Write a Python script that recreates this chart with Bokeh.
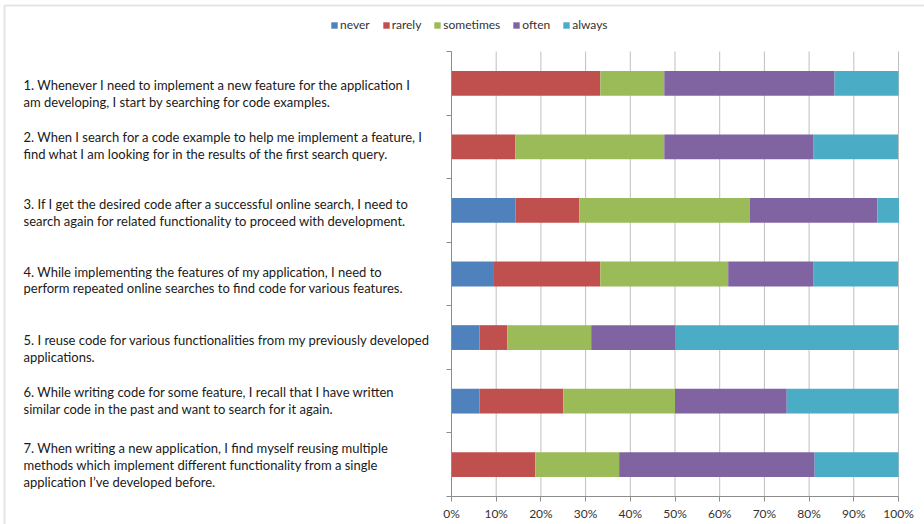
from bokeh.plotting import figure
from bokeh.models import (ColumnDataSource, Range1d, FixedTicker, NumeralTickFormatter,
                          Label, BoxAnnotation)
from bokeh.embed import file_html
from bokeh.resources import INLINE

questions = [
    "1. Whenever I need to implement a new feature for the application I\nam developing, I start by searching for code examples.",
    "2. When I search for a code example to help me implement a feature, I\nfind what I am looking for in the results of the first search query.",
    "3. If I get the desired code after a successful online search, I need to\nsearch again for related functionality to proceed with development.",
    "4. While implementing the features of my application, I need to\nperform repeated online searches to find code for various features.",
    "5. I reuse code for various functionalities from my previously developed\napplications.",
    "6. While writing code for some feature, I recall that I have written\nsimilar code in the past and want to search for it again.",
    "7. When writing a new application, I find myself reusing multiple\nmethods which implement different functionality from a single\napplication I\u2019ve developed before.",
]
levels = ["never", "rarely", "sometimes", "often", "always"]
never = [0.0, 0.0, 0.143, 0.095, 0.0625, 0.0625, 0.0]
rarely = [0.333, 0.143, 0.143, 0.238, 0.0625, 0.1875, 0.1875]
sometimes = [0.143, 0.333, 0.381, 0.286, 0.1875, 0.25, 0.1875]
often = [0.381, 0.333, 0.286, 0.190, 0.1875, 0.25, 0.4375]
always = [0.143, 0.190, 0.048, 0.190, 0.5, 0.25, 0.1875]
x_ticks = [0.0, 0.1, 0.2, 0.3, 0.4, 0.5, 0.6, 0.7, 0.8, 0.9, 1.0]

colors = ["#4F81BD", "#C0504D", "#9BBB59", "#8064A2", "#4BACC6"]
label_offsets = [-10, 1, -2, -6, -11, 1, 0]  # px, visual placement of text boxes

FONT = "Lato"
W, H = 924, 524
# pixel layout of the bar area inside the canvas
PL, PR, PT, PB = 451, 898, 51, 496
n = len(questions)
ypos = [i + 0.5 for i in range(n)]

sx = (PR - PL) / 1.0          # px per x unit
sy = (PB - PT) / n            # px per category
x_start = -PL / sx
x_end = x_start + W / sx
y_top = -PT / sy
y_bottom = n + (H - PB) / sy

source = ColumnDataSource(dict(y=ypos, never=never, rarely=rarely, sometimes=sometimes,
                               often=often, always=always))

p = figure(width=W, height=H, output_backend="svg", toolbar_location=None,
           x_range=Range1d(x_start, x_end), y_range=Range1d(y_bottom, y_top),
           min_border=0)
p.outline_line_color = None
p.background_fill_color = "white"
p.border_fill_color = "white"
p.xgrid.visible = False
p.ygrid.visible = False

# vertical gridlines limited to the bar area
p.segment(x0=x_ticks, y0=[0] * len(x_ticks), x1=x_ticks, y1=[n] * len(x_ticks),
          line_color="#bfbfbf", line_width=1)

p.hbar_stack(levels, y="y", height=0.39, color=colors, line_color=None,
             source=source, legend_label=levels)

# axes pinned to the bar area
p.xaxis.fixed_location = n
p.xaxis.bounds = (0, 1)
p.xaxis.ticker = FixedTicker(ticks=x_ticks)
p.xaxis.formatter = NumeralTickFormatter(format="0%")
p.xaxis.major_label_text_font = FONT
p.xaxis.major_label_text_font_size = "12px"
p.xaxis.major_label_text_color = "#333333"
p.xaxis.major_tick_out = 5
p.xaxis.major_tick_in = 0
p.xaxis.minor_tick_line_color = None
p.xaxis.axis_line_color = "#8c8c8c"
p.xaxis.major_tick_line_color = "#8c8c8c"
p.xaxis.major_label_standoff = 4

p.yaxis.fixed_location = 0
p.yaxis.bounds = (0, n)
p.yaxis.ticker = FixedTicker(ticks=list(range(n + 1)))
p.yaxis.major_label_text_color = None
p.yaxis.major_tick_out = 5
p.yaxis.major_tick_in = 0
p.yaxis.minor_tick_line_color = None
p.yaxis.axis_line_color = "#8c8c8c"
p.yaxis.major_tick_line_color = "#8c8c8c"

# question labels
for i, q in enumerate(questions):
    p.add_layout(Label(x=23, x_units="screen", y=ypos[i], y_units="data", y_offset=label_offsets[i],
                       text=q, text_align="left", text_baseline="middle",
                       text_font=FONT, text_font_size="13px", text_color="#1a1a1a",
                       text_line_height=1.05))

# legend
lg = p.legend[0]
lg.orientation = "horizontal"
lg.location = (330, H - 32)
lg.glyph_width = 8
lg.glyph_height = 8
lg.label_standoff = 2
lg.spacing = 12
lg.padding = 0
lg.margin = 0
lg.border_line_color = None
lg.background_fill_alpha = 0
lg.label_text_font = FONT
lg.label_text_font_size = "12px"
lg.label_text_color = "#333333"
lg.label_height = 14

# outer chart frame (only top and left edges fall inside the canvas)
p.add_layout(BoxAnnotation(left=x_start + 4 / sx, right=x_end + 1, top=y_top + 5 / sy,
                           bottom=y_bottom + 1, fill_alpha=0,
                           line_color="#a6a6a6", line_width=2))

open("out.html", "w").write(file_html(p, INLINE))
